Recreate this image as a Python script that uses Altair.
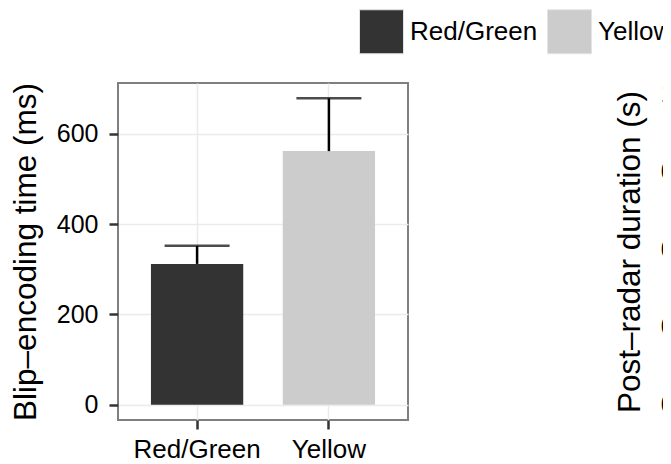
import altair as alt
import pandas as pd

categories = ["Red/Green", "Yellow"]
means = [312, 562]
uppers = [352, 679]
colors = ["#333333", "#cccccc"]
left_ticks = [0, 200, 400, 600]
left_domain = [-34, 713]
right_ticks = [0, 0.25, 0.5, 0.75, 1.0]
right_domain = [-0.049, 1.033]

df = pd.DataFrame({"cond": categories, "mean": means, "upper": uppers})
df_r = pd.DataFrame({"v": right_ticks})

FONT = "Liberation Sans"

xenc = alt.X(
    "cond:N",
    sort=categories,
    scale=alt.Scale(paddingInner=0.3, paddingOuter=0.25),
    axis=alt.Axis(
        title=None, labelFontSize=26, labelColor="black", labelPadding=7,
        tickSize=9, tickWidth=2.5, tickColor="#333333", domain=False,
        grid=True, gridColor="#ebebeb", gridWidth=1.5, bandPosition=0.5,
        labelAngle=0,
    ),
)

yscale = alt.Scale(domain=left_domain, nice=False, zero=False)
yaxis = alt.Axis(
    title="Blip–encoding time (ms)", values=left_ticks, labelFontSize=25,
    labelColor="black", labelPadding=11, tickSize=9, tickWidth=2.5,
    tickColor="#333333", domain=False, grid=True, gridColor="#ebebeb",
    gridWidth=1.5, titleFontSize=31.5, titleFontWeight="normal",
    titleColor="black", titlePadding=14,
)

base = alt.Chart(df)

bars = base.mark_bar().encode(
    x=xenc,
    y=alt.Y("mean:Q", scale=yscale, axis=yaxis),
    color=alt.Color(
        "cond:N",
        scale=alt.Scale(domain=categories, range=colors),
        legend=alt.Legend(
            title=None, orient="none", legendX=241, legendY=-74,
            direction="horizontal", symbolType="square", symbolSize=1936,
            symbolStrokeColor="#e3e3e3", symbolStrokeWidth=1,
            symbolOpacity=1, labelFontSize=26, labelColor="black",
            labelOffset=6, columnPadding=7, padding=0, labelLimit=400,
        ),
    ),
)

rule = base.mark_rule(color="black", strokeWidth=2.5).encode(
    x=xenc, y=alt.Y("mean:Q", scale=yscale, axis=yaxis), y2="upper:Q"
)

cap = base.mark_tick(color="black", thickness=2.5, size=65).encode(
    x=xenc, y=alt.Y("upper:Q", scale=yscale, axis=yaxis)
)

left_panel = alt.layer(bars, rule, cap)

right_axis = alt.Chart(df_r).mark_point(opacity=0).encode(
    y=alt.Y(
        "v:Q",
        scale=alt.Scale(domain=right_domain, nice=False, zero=False),
        axis=alt.Axis(
            orient="left", offset=-611, values=right_ticks, format=".2f",
            title="Post–radar duration (s)", labelFontSize=25,
            labelColor="black", labelPadding=11, tickSize=9, tickWidth=2.5,
            tickColor="#333333", domain=False, grid=False,
            titleFontSize=31.5, titleFontWeight="normal", titleColor="black",
            titlePadding=14,
        ),
    )
)

chart = (
    alt.layer(left_panel, right_axis)
    .resolve_scale(y="independent")
    .properties(
        width=290, height=337,
        autosize=alt.AutoSizeParams(type="none"),
        padding={"left": 110, "top": 75, "right": 255, "bottom": 44},
    )
    .configure(font=FONT, background="white")
    .configure_view(stroke="#7f7f7f", strokeWidth=2)
)

chart.save("out.html", embed_options={"renderer": "svg", "actions": False})
